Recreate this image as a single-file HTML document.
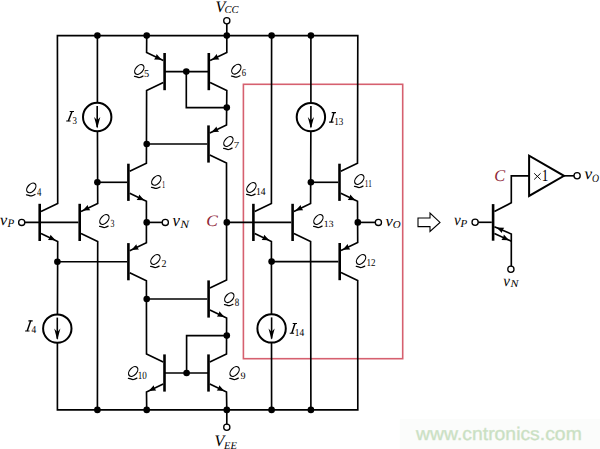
<!DOCTYPE html>
<html><head><meta charset="utf-8"><style>
html,body{margin:0;padding:0;background:#fff;overflow:hidden;width:600px;height:449px;}
svg{display:block;}
text{text-rendering:geometricPrecision;}
</style></head><body>
<svg width="600" height="449" viewBox="0 0 600 449">
<rect width="600" height="449" fill="#fff"/>
<rect x="243.4" y="84.3" width="159.3" height="274.4" fill="none" stroke="#d6606f" stroke-width="1.6"/>
<path d="M164.60 53.00 L164.60 90.20" stroke="#000" stroke-width="2.6"/>
<path d="M208.80 53.00 L208.80 90.20" stroke="#000" stroke-width="2.6"/>
<path d="M208.50 125.40 L208.50 162.60" stroke="#000" stroke-width="2.6"/>
<path d="M128.40 163.70 L128.40 200.90" stroke="#000" stroke-width="2.6"/>
<path d="M128.40 243.10 L128.40 280.30" stroke="#000" stroke-width="2.6"/>
<path d="M208.60 280.40 L208.60 317.60" stroke="#000" stroke-width="2.6"/>
<path d="M164.50 354.40 L164.50 391.60" stroke="#000" stroke-width="2.6"/>
<path d="M208.50 354.40 L208.50 391.60" stroke="#000" stroke-width="2.6"/>
<path d="M39.70 203.80 L39.70 241.00" stroke="#000" stroke-width="2.6"/>
<path d="M79.70 203.80 L79.70 241.00" stroke="#000" stroke-width="2.6"/>
<path d="M253.40 203.80 L253.40 241.00" stroke="#000" stroke-width="2.6"/>
<path d="M292.60 203.80 L292.60 241.00" stroke="#000" stroke-width="2.6"/>
<path d="M339.50 163.70 L339.50 200.90" stroke="#000" stroke-width="2.6"/>
<path d="M339.70 243.00 L339.70 280.20" stroke="#000" stroke-width="2.6"/>
<path d="M41.00 211.40 L57.70 203.40 L57.40 35.60 L357.80 35.60 L357.50 163.30 L340.80 171.30" fill="none" stroke="#000" stroke-width="1.65" stroke-linejoin="miter" stroke-linecap="butt"/>
<path d="M57.40 330.00 L57.40 409.90 L357.80 409.90 L357.70 280.60 L341.00 272.60" fill="none" stroke="#000" stroke-width="1.65" stroke-linejoin="miter" stroke-linecap="butt"/>
<path d="M41.00 233.40 L57.70 241.40 L57.40 330.00" fill="none" stroke="#000" stroke-width="1.65" stroke-linejoin="miter" stroke-linecap="butt"/>
<path d="M57.40 261.70 L127.10 261.70" fill="none" stroke="#000" stroke-width="1.65" stroke-linejoin="miter" stroke-linecap="butt"/>
<path d="M97.40 35.60 L97.40 117.00" fill="none" stroke="#000" stroke-width="1.65" stroke-linejoin="miter" stroke-linecap="butt"/>
<path d="M97.40 117.00 L97.70 203.40 L81.00 211.40" fill="none" stroke="#000" stroke-width="1.65" stroke-linejoin="miter" stroke-linecap="butt"/>
<path d="M81.00 233.40 L97.70 241.40 L97.40 409.90" fill="none" stroke="#000" stroke-width="1.65" stroke-linejoin="miter" stroke-linecap="butt"/>
<path d="M97.40 182.30 L127.10 182.30" fill="none" stroke="#000" stroke-width="1.65" stroke-linejoin="miter" stroke-linecap="butt"/>
<path d="M146.70 35.60 L146.60 52.60 L163.30 60.60" fill="none" stroke="#000" stroke-width="1.65" stroke-linejoin="miter" stroke-linecap="butt"/>
<path d="M163.30 82.60 L146.60 90.60 L146.40 163.30 L129.70 171.30" fill="none" stroke="#000" stroke-width="1.65" stroke-linejoin="miter" stroke-linecap="butt"/>
<path d="M146.70 144.00 L207.20 144.00" fill="none" stroke="#000" stroke-width="1.65" stroke-linejoin="miter" stroke-linecap="butt"/>
<path d="M164.60 71.60 L208.80 71.60" fill="none" stroke="#000" stroke-width="1.65" stroke-linejoin="miter" stroke-linecap="butt"/>
<path d="M186.30 71.60 L186.30 107.60 L226.80 107.60" fill="none" stroke="#000" stroke-width="1.65" stroke-linejoin="miter" stroke-linecap="butt"/>
<path d="M226.80 20.80 L226.80 35.60 L226.80 52.60 L210.10 60.60" fill="none" stroke="#000" stroke-width="1.65" stroke-linejoin="miter" stroke-linecap="butt"/>
<path d="M210.10 82.60 L226.80 90.60 L226.50 125.00 L209.80 133.00" fill="none" stroke="#000" stroke-width="1.65" stroke-linejoin="miter" stroke-linecap="butt"/>
<path d="M209.80 155.00 L226.50 163.00 L226.60 280.00 L209.90 288.00" fill="none" stroke="#000" stroke-width="1.65" stroke-linejoin="miter" stroke-linecap="butt"/>
<path d="M226.80 222.40 L291.30 222.40" fill="none" stroke="#000" stroke-width="1.65" stroke-linejoin="miter" stroke-linecap="butt"/>
<path d="M129.70 193.30 L146.40 201.30 L146.40 242.70 L129.70 250.70" fill="none" stroke="#000" stroke-width="1.65" stroke-linejoin="miter" stroke-linecap="butt"/>
<path d="M146.70 222.40 L165.30 222.40" fill="none" stroke="#000" stroke-width="1.65" stroke-linejoin="miter" stroke-linecap="butt"/>
<path d="M129.70 272.70 L146.40 280.70 L146.50 354.00 L163.20 362.00" fill="none" stroke="#000" stroke-width="1.65" stroke-linejoin="miter" stroke-linecap="butt"/>
<path d="M146.70 299.00 L207.30 299.00" fill="none" stroke="#000" stroke-width="1.65" stroke-linejoin="miter" stroke-linecap="butt"/>
<path d="M209.90 310.00 L226.60 318.00 L226.50 354.00 L209.80 362.00" fill="none" stroke="#000" stroke-width="1.65" stroke-linejoin="miter" stroke-linecap="butt"/>
<path d="M164.50 373.00 L208.50 373.00" fill="none" stroke="#000" stroke-width="1.65" stroke-linejoin="miter" stroke-linecap="butt"/>
<path d="M186.60 373.00 L186.60 335.60 L226.80 335.60" fill="none" stroke="#000" stroke-width="1.65" stroke-linejoin="miter" stroke-linecap="butt"/>
<path d="M163.20 384.00 L146.50 392.00 L146.70 409.90" fill="none" stroke="#000" stroke-width="1.65" stroke-linejoin="miter" stroke-linecap="butt"/>
<path d="M209.80 384.00 L226.50 392.00 L226.80 409.90 L226.80 427.30" fill="none" stroke="#000" stroke-width="1.65" stroke-linejoin="miter" stroke-linecap="butt"/>
<path d="M271.60 35.60 L271.40 203.40 L254.70 211.40" fill="none" stroke="#000" stroke-width="1.65" stroke-linejoin="miter" stroke-linecap="butt"/>
<path d="M254.70 233.40 L271.40 241.40 L271.60 409.90" fill="none" stroke="#000" stroke-width="1.65" stroke-linejoin="miter" stroke-linecap="butt"/>
<path d="M271.60 261.60 L338.40 261.60" fill="none" stroke="#000" stroke-width="1.65" stroke-linejoin="miter" stroke-linecap="butt"/>
<path d="M310.90 35.60 L310.90 117.00" fill="none" stroke="#000" stroke-width="1.65" stroke-linejoin="miter" stroke-linecap="butt"/>
<path d="M310.90 117.00 L310.60 203.40 L293.90 211.40" fill="none" stroke="#000" stroke-width="1.65" stroke-linejoin="miter" stroke-linecap="butt"/>
<path d="M310.90 182.30 L338.20 182.30" fill="none" stroke="#000" stroke-width="1.65" stroke-linejoin="miter" stroke-linecap="butt"/>
<path d="M293.90 233.40 L310.60 241.40 L310.90 409.90" fill="none" stroke="#000" stroke-width="1.65" stroke-linejoin="miter" stroke-linecap="butt"/>
<path d="M340.80 193.30 L357.50 201.30 L357.70 242.60 L341.00 250.60" fill="none" stroke="#000" stroke-width="1.65" stroke-linejoin="miter" stroke-linecap="butt"/>
<path d="M357.80 222.40 L378.40 222.40" fill="none" stroke="#000" stroke-width="1.65" stroke-linejoin="miter" stroke-linecap="butt"/>
<path d="M21.70 222.40 L78.40 222.40" fill="none" stroke="#000" stroke-width="1.65" stroke-linejoin="miter" stroke-linecap="butt"/>
<path d="M161.63 59.80 L154.04 59.44 L155.86 57.04 L156.59 54.12 Z" fill="#000"/>
<path d="M211.77 59.80 L216.81 54.12 L217.54 57.04 L219.36 59.44 Z" fill="#000"/>
<path d="M211.47 132.20 L216.51 126.52 L217.24 129.44 L219.06 131.84 Z" fill="#000"/>
<path d="M144.23 200.26 L136.64 199.90 L138.46 197.50 L139.19 194.58 Z" fill="#000"/>
<path d="M131.37 249.90 L136.41 244.22 L137.14 247.14 L138.96 249.54 Z" fill="#000"/>
<path d="M224.43 316.96 L216.84 316.60 L218.66 314.20 L219.39 311.28 Z" fill="#000"/>
<path d="M148.67 390.96 L153.71 385.28 L154.44 388.20 L156.26 390.60 Z" fill="#000"/>
<path d="M224.33 390.96 L216.74 390.60 L218.56 388.20 L219.29 385.28 Z" fill="#000"/>
<path d="M55.53 240.36 L47.94 240.00 L49.76 237.60 L50.49 234.68 Z" fill="#000"/>
<path d="M82.67 210.60 L87.71 204.92 L88.44 207.84 L90.26 210.24 Z" fill="#000"/>
<path d="M269.23 240.36 L261.64 240.00 L263.46 237.60 L264.19 234.68 Z" fill="#000"/>
<path d="M295.57 210.60 L300.61 204.92 L301.34 207.84 L303.16 210.24 Z" fill="#000"/>
<path d="M355.33 200.26 L347.74 199.90 L349.56 197.50 L350.29 194.58 Z" fill="#000"/>
<path d="M342.67 249.80 L347.71 244.12 L348.44 247.04 L350.26 249.44 Z" fill="#000"/>
<circle cx="97.20" cy="117.00" r="14.2" fill="#fff" stroke="#000" stroke-width="2.0"/>
<path d="M97.20 106.00 L97.20 127.20" fill="none" stroke="#000" stroke-width="1.6" stroke-linejoin="miter" stroke-linecap="butt"/>
<path d="M97.20 128.40 L94.10 117.00 L96.70 119.80 L97.70 119.80 L100.30 117.00 Z" fill="#000"/>
<circle cx="310.90" cy="117.10" r="14.2" fill="#fff" stroke="#000" stroke-width="2.0"/>
<path d="M310.90 106.10 L310.90 127.30" fill="none" stroke="#000" stroke-width="1.6" stroke-linejoin="miter" stroke-linecap="butt"/>
<path d="M310.90 128.50 L307.80 117.10 L310.40 119.90 L311.40 119.90 L314.00 117.10 Z" fill="#000"/>
<circle cx="57.30" cy="328.60" r="14.2" fill="#fff" stroke="#000" stroke-width="2.0"/>
<path d="M57.30 317.60 L57.30 338.80" fill="none" stroke="#000" stroke-width="1.6" stroke-linejoin="miter" stroke-linecap="butt"/>
<path d="M57.30 340.00 L54.20 328.60 L56.80 331.40 L57.80 331.40 L60.40 328.60 Z" fill="#000"/>
<circle cx="271.60" cy="328.40" r="14.2" fill="#fff" stroke="#000" stroke-width="2.0"/>
<path d="M271.60 317.40 L271.60 338.60" fill="none" stroke="#000" stroke-width="1.6" stroke-linejoin="miter" stroke-linecap="butt"/>
<path d="M271.60 339.80 L268.50 328.40 L271.10 331.20 L272.10 331.20 L274.70 328.40 Z" fill="#000"/>
<circle cx="97.40" cy="35.60" r="3.3" fill="#000"/>
<circle cx="97.40" cy="409.90" r="3.3" fill="#000"/>
<circle cx="146.70" cy="35.60" r="3.3" fill="#000"/>
<circle cx="146.70" cy="409.90" r="3.3" fill="#000"/>
<circle cx="226.80" cy="35.60" r="3.3" fill="#000"/>
<circle cx="226.80" cy="409.90" r="3.3" fill="#000"/>
<circle cx="271.60" cy="35.60" r="3.3" fill="#000"/>
<circle cx="271.60" cy="409.90" r="3.3" fill="#000"/>
<circle cx="310.90" cy="35.60" r="3.3" fill="#000"/>
<circle cx="310.90" cy="409.90" r="3.3" fill="#000"/>
<circle cx="186.30" cy="71.60" r="3.3" fill="#000"/>
<circle cx="226.80" cy="107.60" r="3.3" fill="#000"/>
<circle cx="146.70" cy="144.00" r="3.3" fill="#000"/>
<circle cx="97.40" cy="182.30" r="3.3" fill="#000"/>
<circle cx="146.70" cy="222.40" r="3.3" fill="#000"/>
<circle cx="226.80" cy="222.40" r="3.3" fill="#000"/>
<circle cx="57.40" cy="261.70" r="3.3" fill="#000"/>
<circle cx="146.70" cy="299.00" r="3.3" fill="#000"/>
<circle cx="226.80" cy="335.60" r="3.3" fill="#000"/>
<circle cx="186.60" cy="373.00" r="3.3" fill="#000"/>
<circle cx="271.60" cy="261.60" r="3.3" fill="#000"/>
<circle cx="310.90" cy="182.30" r="3.3" fill="#000"/>
<circle cx="357.80" cy="222.40" r="3.3" fill="#000"/>
<circle cx="226.80" cy="20.80" r="3.1" fill="#fff" stroke="#000" stroke-width="1.3"/>
<circle cx="226.80" cy="427.30" r="3.1" fill="#fff" stroke="#000" stroke-width="1.3"/>
<circle cx="21.70" cy="222.40" r="3.1" fill="#fff" stroke="#000" stroke-width="1.3"/>
<circle cx="165.30" cy="222.40" r="3.1" fill="#fff" stroke="#000" stroke-width="1.3"/>
<circle cx="378.40" cy="222.40" r="3.1" fill="#fff" stroke="#000" stroke-width="1.3"/>
<path d="M493.1 204.1 L493.1 240.7" stroke="#000" stroke-width="2.6"/>
<path d="M494.40 211.50 L511.30 202.80 L511.30 175.80 L529.10 175.80" fill="none" stroke="#000" stroke-width="1.65" stroke-linejoin="miter" stroke-linecap="butt"/>
<path d="M475.10 222.30 L491.80 222.30" fill="none" stroke="#000" stroke-width="1.65" stroke-linejoin="miter" stroke-linecap="butt"/>
<path d="M529.1 155.7 L529.1 195.9 L564.0 175.8 Z" fill="#fff" stroke="#000" stroke-width="2.0" stroke-linejoin="miter"/>
<path d="M564.00 175.80 L577.10 175.80" fill="none" stroke="#000" stroke-width="1.65" stroke-linejoin="miter" stroke-linecap="butt"/>
<path d="M494.40 226.70 L511.30 234.00 L511.30 269.20" fill="none" stroke="#000" stroke-width="1.65" stroke-linejoin="miter" stroke-linecap="butt"/>
<path d="M494.40 233.40 L511.30 241.20" fill="none" stroke="#000" stroke-width="1.65" stroke-linejoin="miter" stroke-linecap="butt"/>
<path d="M496.60 227.60 L504.20 227.69 L502.47 230.15 L501.84 233.10 Z" fill="#000"/>
<path d="M509.00 240.14 L501.41 239.88 L503.19 237.46 L503.88 234.53 Z" fill="#000"/>
<circle cx="475.10" cy="222.30" r="3.1" fill="#fff" stroke="#000" stroke-width="1.3"/>
<circle cx="577.10" cy="175.80" r="3.1" fill="#fff" stroke="#000" stroke-width="1.3"/>
<circle cx="510.90" cy="269.20" r="3.1" fill="#fff" stroke="#000" stroke-width="1.3"/>
<path d="M418 218 L430 218 L430 213 L440 222.4 L430 231.4 L430 226.6 L418 226.6 Z" fill="#fff" stroke="#000" stroke-width="1.1"/>
<rect x="399.8" y="419.2" width="200.2" height="29.8" fill="#fbfcfb"/>
<ellipse class="lbl" cx="156.30" cy="180.40" rx="5.6" ry="3.6" transform="rotate(-48 156.30 180.40)" fill="none" stroke="#000" stroke-width="1.25"/>
<path class="lbl" d="M151.50 187.30 C153.20 186.90 154.60 188.80 156.60 188.40 C158.00 188.10 159.00 187.50 160.00 187.00" fill="none" stroke="#000" stroke-width="1.25" stroke-linecap="round"/>
<ellipse class="lbl" cx="155.40" cy="259.50" rx="5.6" ry="3.6" transform="rotate(-48 155.40 259.50)" fill="none" stroke="#000" stroke-width="1.25"/>
<path class="lbl" d="M150.60 266.40 C152.30 266.00 153.70 267.90 155.70 267.50 C157.10 267.20 158.10 266.60 159.10 266.10" fill="none" stroke="#000" stroke-width="1.25" stroke-linecap="round"/>
<ellipse class="lbl" cx="104.40" cy="219.50" rx="5.6" ry="3.6" transform="rotate(-48 104.40 219.50)" fill="none" stroke="#000" stroke-width="1.25"/>
<path class="lbl" d="M99.60 226.40 C101.30 226.00 102.70 227.90 104.70 227.50 C106.10 227.20 107.10 226.60 108.10 226.10" fill="none" stroke="#000" stroke-width="1.25" stroke-linecap="round"/>
<ellipse class="lbl" cx="31.30" cy="187.90" rx="5.6" ry="3.6" transform="rotate(-48 31.30 187.90)" fill="none" stroke="#000" stroke-width="1.25"/>
<path class="lbl" d="M26.50 194.80 C28.20 194.40 29.60 196.30 31.60 195.90 C33.00 195.60 34.00 195.00 35.00 194.50" fill="none" stroke="#000" stroke-width="1.25" stroke-linecap="round"/>
<ellipse class="lbl" cx="139.30" cy="69.50" rx="5.6" ry="3.6" transform="rotate(-48 139.30 69.50)" fill="none" stroke="#000" stroke-width="1.25"/>
<path class="lbl" d="M134.50 76.40 C136.20 76.00 137.60 77.90 139.60 77.50 C141.00 77.20 142.00 76.60 143.00 76.10" fill="none" stroke="#000" stroke-width="1.25" stroke-linecap="round"/>
<ellipse class="lbl" cx="236.30" cy="69.20" rx="5.6" ry="3.6" transform="rotate(-48 236.30 69.20)" fill="none" stroke="#000" stroke-width="1.25"/>
<path class="lbl" d="M231.50 76.10 C233.20 75.70 234.60 77.60 236.60 77.20 C238.00 76.90 239.00 76.30 240.00 75.80" fill="none" stroke="#000" stroke-width="1.25" stroke-linecap="round"/>
<ellipse class="lbl" cx="228.40" cy="141.50" rx="5.6" ry="3.6" transform="rotate(-48 228.40 141.50)" fill="none" stroke="#000" stroke-width="1.25"/>
<path class="lbl" d="M223.60 148.40 C225.30 148.00 226.70 149.90 228.70 149.50 C230.10 149.20 231.10 148.60 232.10 148.10" fill="none" stroke="#000" stroke-width="1.25" stroke-linecap="round"/>
<ellipse class="lbl" cx="229.30" cy="297.70" rx="5.6" ry="3.6" transform="rotate(-48 229.30 297.70)" fill="none" stroke="#000" stroke-width="1.25"/>
<path class="lbl" d="M224.50 304.60 C226.20 304.20 227.60 306.10 229.60 305.70 C231.00 305.40 232.00 304.80 233.00 304.30" fill="none" stroke="#000" stroke-width="1.25" stroke-linecap="round"/>
<ellipse class="lbl" cx="234.60" cy="371.50" rx="5.6" ry="3.6" transform="rotate(-48 234.60 371.50)" fill="none" stroke="#000" stroke-width="1.25"/>
<path class="lbl" d="M229.80 378.40 C231.50 378.00 232.90 379.90 234.90 379.50 C236.30 379.20 237.30 378.60 238.30 378.10" fill="none" stroke="#000" stroke-width="1.25" stroke-linecap="round"/>
<ellipse class="lbl" cx="133.20" cy="371.50" rx="5.6" ry="3.6" transform="rotate(-48 133.20 371.50)" fill="none" stroke="#000" stroke-width="1.25"/>
<path class="lbl" d="M128.40 378.40 C130.10 378.00 131.50 379.90 133.50 379.50 C134.90 379.20 135.90 378.60 136.90 378.10" fill="none" stroke="#000" stroke-width="1.25" stroke-linecap="round"/>
<ellipse class="lbl" cx="359.30" cy="179.50" rx="5.6" ry="3.6" transform="rotate(-48 359.30 179.50)" fill="none" stroke="#000" stroke-width="1.25"/>
<path class="lbl" d="M354.50 186.40 C356.20 186.00 357.60 187.90 359.60 187.50 C361.00 187.20 362.00 186.60 363.00 186.10" fill="none" stroke="#000" stroke-width="1.25" stroke-linecap="round"/>
<ellipse class="lbl" cx="361.05" cy="259.50" rx="5.6" ry="3.6" transform="rotate(-48 361.05 259.50)" fill="none" stroke="#000" stroke-width="1.25"/>
<path class="lbl" d="M356.25 266.40 C357.95 266.00 359.35 267.90 361.35 267.50 C362.75 267.20 363.75 266.60 364.75 266.10" fill="none" stroke="#000" stroke-width="1.25" stroke-linecap="round"/>
<ellipse class="lbl" cx="318.40" cy="219.50" rx="5.6" ry="3.6" transform="rotate(-48 318.40 219.50)" fill="none" stroke="#000" stroke-width="1.25"/>
<path class="lbl" d="M313.60 226.40 C315.30 226.00 316.70 227.90 318.70 227.50 C320.10 227.20 321.10 226.60 322.10 226.10" fill="none" stroke="#000" stroke-width="1.25" stroke-linecap="round"/>
<ellipse class="lbl" cx="251.40" cy="187.50" rx="5.6" ry="3.6" transform="rotate(-48 251.40 187.50)" fill="none" stroke="#000" stroke-width="1.25"/>
<path class="lbl" d="M246.60 194.40 C248.30 194.00 249.70 195.90 251.70 195.50 C253.10 195.20 254.10 194.60 255.10 194.10" fill="none" stroke="#000" stroke-width="1.25" stroke-linecap="round"/>
<text id="qs1" class="lbl" transform="translate(162.04 187.79) scale(0.602 1)" font-family="Liberation Serif" font-style="normal" font-weight="normal" font-size="10.53" fill="#000" >1</text>
<text id="qs2" class="lbl" transform="translate(161.61 266.69) scale(0.954 1)" font-family="Liberation Serif" font-style="normal" font-weight="normal" font-size="10.51" fill="#000" >2</text>
<text id="qs3" class="lbl" transform="translate(110.38 227.44) scale(0.722 1)" font-family="Liberation Serif" font-style="normal" font-weight="normal" font-size="10.92" fill="#000" >3</text>
<text id="qs4" class="lbl" transform="translate(36.91 195.84) scale(0.735 1)" font-family="Liberation Serif" font-style="normal" font-weight="normal" font-size="11.88" fill="#000" >4</text>
<text id="qs5" class="lbl" transform="translate(144.12 77.39) scale(0.959 1)" font-family="Liberation Serif" font-style="normal" font-weight="normal" font-size="10.80" fill="#000" >5</text>
<text id="qs6" class="lbl" transform="translate(241.81 76.40) scale(0.821 1)" font-family="Liberation Serif" font-style="normal" font-weight="normal" font-size="10.56" fill="#000" >6</text>
<text id="qs7" class="lbl" transform="translate(233.66 148.40) scale(1.166 1)" font-family="Liberation Serif" font-style="normal" font-weight="normal" font-size="9.35" fill="#000" >7</text>
<text id="qs8" class="lbl" transform="translate(234.82 305.60) scale(0.787 1)" font-family="Liberation Serif" font-style="normal" font-weight="normal" font-size="11.30" fill="#000" >8</text>
<text id="qs9" class="lbl" transform="translate(240.44 378.86) scale(1.016 1)" font-family="Liberation Serif" font-style="normal" font-weight="normal" font-size="10.01" fill="#000" >9</text>
<text id="qs10" class="lbl" transform="translate(137.81 378.67) scale(0.819 1)" font-family="Liberation Serif" font-style="normal" font-weight="normal" font-size="11.10" fill="#000" >10</text>
<text id="qs11" class="lbl" transform="translate(364.87 186.52) scale(0.669 1)" font-family="Liberation Serif" font-style="normal" font-weight="normal" font-size="10.60" fill="#000" >11</text>
<text id="qs12" class="lbl" transform="translate(366.56 266.45) scale(0.858 1)" font-family="Liberation Serif" font-style="normal" font-weight="normal" font-size="10.53" fill="#000" >12</text>
<text id="qs13" class="lbl" transform="translate(323.78 226.79) scale(1.038 1)" font-family="Liberation Serif" font-style="normal" font-weight="normal" font-size="9.35" fill="#000" >13</text>
<text id="qs14" class="lbl" transform="translate(255.94 194.57) scale(0.913 1)" font-family="Liberation Serif" font-style="normal" font-weight="normal" font-size="10.51" fill="#000" >14</text>
<text id="I3s" class="lbl" transform="translate(72.57 124.01) scale(0.845 1)" font-family="Liberation Serif" font-style="normal" font-weight="normal" font-size="10.47" fill="#000" >3</text>
<text id="I4s" class="lbl" transform="translate(31.46 333.47) scale(0.887 1)" font-family="Liberation Serif" font-style="normal" font-weight="normal" font-size="10.55" fill="#000" >4</text>
<text id="I13s" class="lbl" transform="translate(334.26 124.75) scale(0.850 1)" font-family="Liberation Serif" font-style="normal" font-weight="normal" font-size="10.73" fill="#000" >13</text>
<text id="I14s" class="lbl" transform="translate(294.73 335.95) scale(0.879 1)" font-family="Liberation Serif" font-style="normal" font-weight="normal" font-size="10.65" fill="#000" >14</text>
<text id="VCC" class="lbl" transform="translate(215.60 11.57) scale(1.000 1)" font-family="Liberation Serif" font-style="italic" font-weight="normal" font-size="16.00" fill="#000" >V</text>
<text id="VCCs" class="lbl" transform="translate(224.45 13.48) scale(1.000 1)" font-family="Liberation Serif" font-style="italic" font-weight="normal" font-size="10.50" fill="#000" >CC</text>
<text id="VEE" class="lbl" transform="translate(214.60 446.07) scale(1.000 1)" font-family="Liberation Serif" font-style="italic" font-weight="normal" font-size="16.00" fill="#000" >V</text>
<text id="VEEs" class="lbl" transform="translate(224.10 448.82) scale(1.000 1)" font-family="Liberation Serif" font-style="italic" font-weight="normal" font-size="10.50" fill="#000" >EE</text>
<text id="vPl" class="lbl" transform="translate(0.03 225.25) scale(1.041 1)" font-family="Liberation Serif" font-style="italic" font-weight="normal" font-size="15.55" fill="#000" >v</text>
<text id="vPls" class="lbl" transform="translate(7.62 227.32) scale(0.963 1)" font-family="Liberation Serif" font-style="italic" font-weight="normal" font-size="11.48" fill="#000" >P</text>
<text id="vNm" class="lbl" transform="translate(172.60 226.21) scale(0.954 1)" font-family="Liberation Serif" font-style="italic" font-weight="normal" font-size="17.57" fill="#000" >v</text>
<text id="vNms" class="lbl" transform="translate(180.20 227.85) scale(1.190 1)" font-family="Liberation Serif" font-style="italic" font-weight="normal" font-size="11.06" fill="#000" >N</text>
<text id="vOm" class="lbl" transform="translate(385.62 225.67) scale(1.068 1)" font-family="Liberation Serif" font-style="italic" font-weight="normal" font-size="15.51" fill="#000" >v</text>
<text id="vOms" class="lbl" transform="translate(392.86 227.76) scale(1.024 1)" font-family="Liberation Serif" font-style="italic" font-weight="normal" font-size="10.63" fill="#000" >O</text>
<text id="vPr" class="lbl" transform="translate(454.05 225.18) scale(0.948 1)" font-family="Liberation Serif" font-style="italic" font-weight="normal" font-size="15.96" fill="#000" >v</text>
<text id="vPrs" class="lbl" transform="translate(460.58 227.42) scale(1.026 1)" font-family="Liberation Serif" font-style="italic" font-weight="normal" font-size="10.78" fill="#000" >P</text>
<text id="vOr" class="lbl" transform="translate(584.52 179.34) scale(1.068 1)" font-family="Liberation Serif" font-style="italic" font-weight="normal" font-size="16.10" fill="#000" >v</text>
<text id="vOrs" class="lbl" transform="translate(591.89 181.65) scale(0.866 1)" font-family="Liberation Serif" font-style="italic" font-weight="normal" font-size="11.23" fill="#000" >O</text>
<text id="vNr" class="lbl" transform="translate(503.24 285.55) scale(0.942 1)" font-family="Liberation Serif" font-style="italic" font-weight="normal" font-size="15.96" fill="#000" >v</text>
<text id="vNrs" class="lbl" transform="translate(510.40 287.10) scale(1.158 1)" font-family="Liberation Serif" font-style="italic" font-weight="normal" font-size="10.25" fill="#000" >N</text>
<text id="Cm" class="lbl" transform="translate(206.17 226.44) scale(1.082 1)" font-family="Liberation Serif" font-style="italic" font-weight="normal" font-size="16.05" fill="#902838" >C</text>
<text id="Cr" class="lbl" transform="translate(494.17 180.61) scale(1.000 1)" font-family="Liberation Serif" font-style="italic" font-weight="normal" font-size="16.35" fill="#902838" >C</text>
<text id="one" class="lbl" transform="translate(541.74 180.66) scale(0.771 1)" font-family="Liberation Serif" font-style="normal" font-weight="normal" font-size="16.95" fill="#000" >1</text>
<text id="wm" class="lbl" transform="translate(416.06 439.84) scale(1.052 1)" font-family="Liberation Sans" font-style="normal" font-weight="normal" font-size="18.41" fill="#c8dfc0" stroke="#d2e4cc" stroke-width="0.45">www.cntronics.com</text>
<path class="lbl" d="M69.70 111.50 L74.00 111.50 M66.20 121.00 L70.60 121.00" stroke="#000" stroke-width="1.15" fill="none"/>
<path class="lbl" d="M72.00 111.50 L68.30 121.00" stroke="#000" stroke-width="1.45" fill="none"/>
<path class="lbl" d="M28.40 320.80 L32.70 320.80 M25.10 331.00 L29.50 331.00" stroke="#000" stroke-width="1.15" fill="none"/>
<path class="lbl" d="M30.70 320.80 L27.20 331.00" stroke="#000" stroke-width="1.45" fill="none"/>
<path class="lbl" d="M331.70 112.60 L336.00 112.60 M329.10 122.10 L333.50 122.10" stroke="#000" stroke-width="1.15" fill="none"/>
<path class="lbl" d="M334.00 112.60 L331.20 122.10" stroke="#000" stroke-width="1.45" fill="none"/>
<path class="lbl" d="M292.70 323.50 L297.00 323.50 M289.70 333.20 L294.10 333.20" stroke="#000" stroke-width="1.15" fill="none"/>
<path class="lbl" d="M295.00 323.50 L291.80 333.20" stroke="#000" stroke-width="1.45" fill="none"/>
<path class="lbl" d="M534.2 173.3 L540.6 179.5 M540.6 173.3 L534.2 179.5" stroke="#000" stroke-width="0.95"/>
</svg>
</body></html>
